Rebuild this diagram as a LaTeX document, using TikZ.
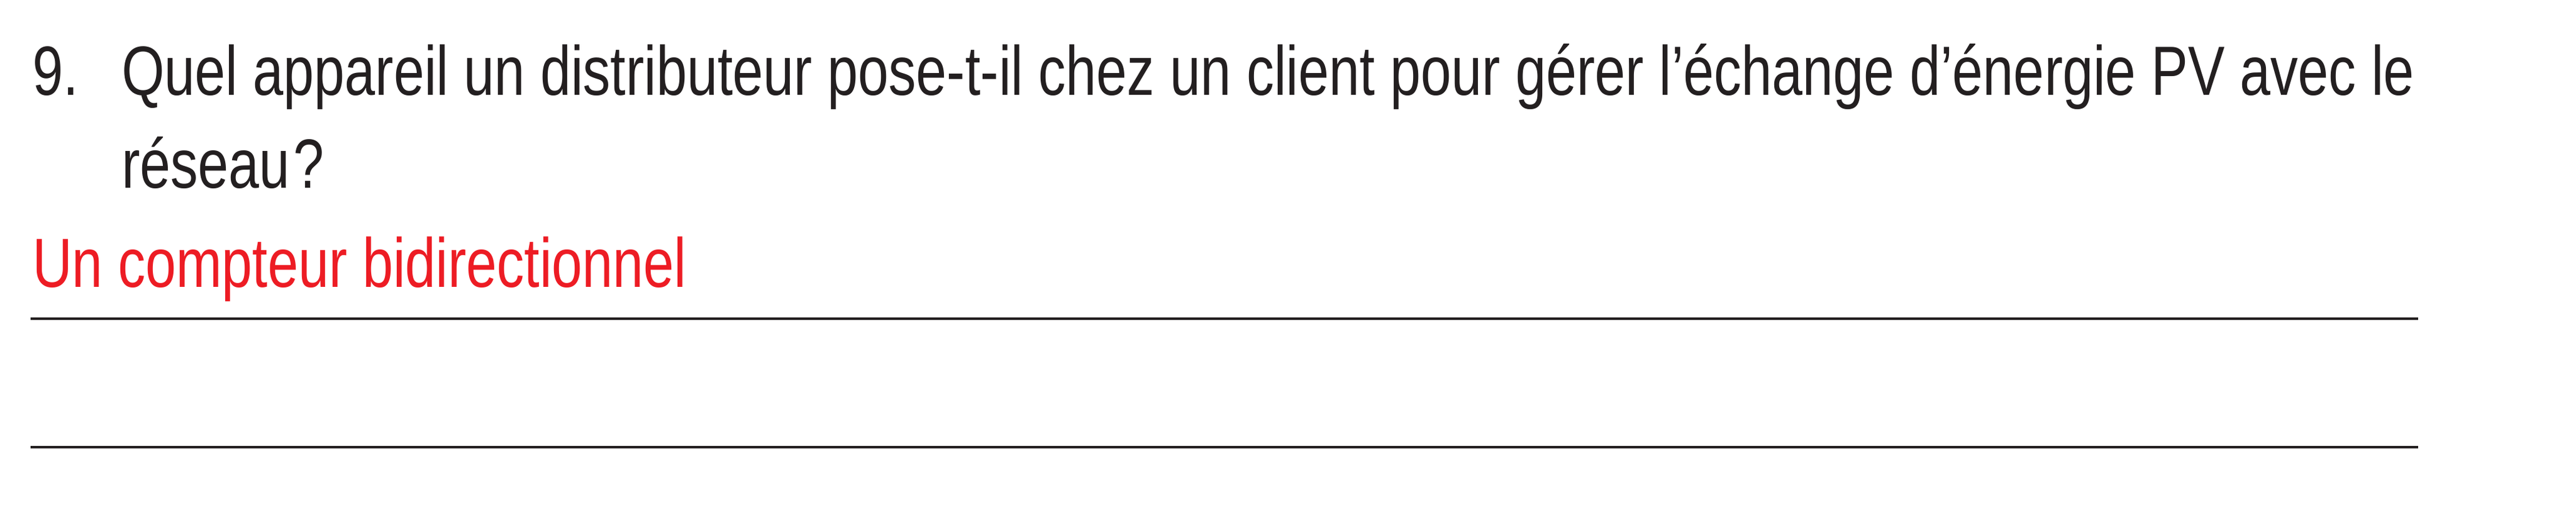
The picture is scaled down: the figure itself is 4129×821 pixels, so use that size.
\documentclass[tikz,border=0pt]{standalone}
\usepackage{fontspec}
\setmainfont{Liberation Sans}[FakeStretch=0.79]
\definecolor{ink}{HTML}{231F20}
\definecolor{answerred}{HTML}{ED1C24}
\begin{document}
\begin{tikzpicture}[x=0.25pt,y=-0.25pt,
  txt/.style={anchor=base west,inner sep=0pt,outer sep=0pt,font=\fontsize{27.9pt}{33pt}\selectfont,text=ink},
  ans/.style={txt,text=answerred},
  rule/.style={draw=ink,line width=1pt}]
\useasboundingbox (0,0) rectangle (4129,821);
\fill[white] (0,0) rectangle (4129,821);
\node[txt] (num) at (52,153) {9.};
\node[txt] (q1) at (195,153) {Quel appareil un distributeur pose-t-il chez un client pour gérer l’échange d’énergie PV avec le};
\node[txt] (q2) at (195,302) {réseau\kern1.5pt?};
\node[ans] (a1) at (52,461) {Un compteur bidirectionnel};
\coordinate (r1a) at (49,511);
\coordinate (r1b) at (3876,511);
\coordinate (r2a) at (49,717);
\coordinate (r2b) at (3876,717);
\draw[rule] (r1a) -- (r1b);
\draw[rule] (r2a) -- (r2b);
\end{tikzpicture}
\end{document}
